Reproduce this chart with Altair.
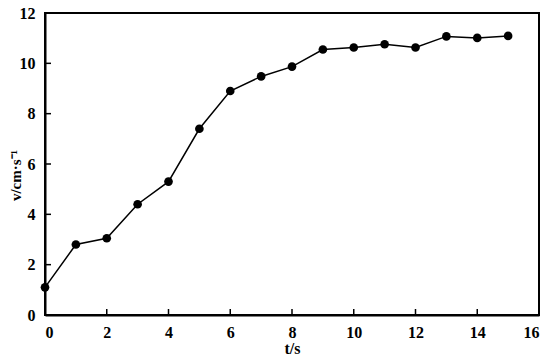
import altair as alt
import pandas as pd

t_values = [0, 1, 2, 3, 4, 5, 6, 7, 8, 9, 10, 11, 12, 13, 14, 15]
v_values = [1.1, 2.8, 3.05, 4.4, 5.3, 7.4, 8.9, 9.48, 9.87, 10.55, 10.63, 10.76, 10.63, 11.07, 11.01, 11.09]
x_ticks = [0, 2, 4, 6, 8, 10, 12, 14, 16]
y_ticks = [0, 2, 4, 6, 8, 10, 12]

df = pd.DataFrame({"t": t_values, "v": v_values})
W, H = 494, 302
FONT = "Liberation Serif"
AXIS_COLOR = "black"

xs = alt.Scale(domain=[0, 16], nice=False)
ys = alt.Scale(domain=[0, 12], nice=False)

xaxis = alt.Axis(values=x_ticks, ticks=False, grid=False, domainColor=AXIS_COLOR, domainWidth=2,
                 labelFont=FONT, labelFontSize=16, labelFontWeight="bold", labelColor="black",
                 labelPadding=9, title="t/s", titleFont=FONT, titleFontSize=16,
                 titleFontWeight="bold", titleColor="black", titlePadding=0)
yaxis = alt.Axis(values=y_ticks, ticks=False, grid=False, domainColor=AXIS_COLOR, domainWidth=2,
                 labelFont=FONT, labelFontSize=16, labelFontWeight="bold", labelColor="black",
                 labelPadding=10, title="v/cm·s⁻¹", titleFont=FONT, titleFontSize=15,
                 titleFontWeight="bold", titleColor="black", titleX=-30, titleY=162,
                 titleAngle=270, titleAlign="center", titleBaseline="middle")

base = alt.Chart(df)
line = base.mark_line(color="black", strokeWidth=1.5).encode(
    x=alt.X("t:Q", scale=xs, axis=xaxis),
    y=alt.Y("v:Q", scale=ys, axis=yaxis),
)
pts = base.mark_circle(color="black", opacity=1, size=75).encode(
    x=alt.X("t:Q", scale=xs), y=alt.Y("v:Q", scale=ys)
)

tick_df = pd.DataFrame({"xt": x_ticks})
ytick_df = pd.DataFrame({"yt": y_ticks})
xt = alt.Chart(tick_df).mark_rule(color=AXIS_COLOR, strokeWidth=1.5).encode(
    x=alt.X("xt:Q", scale=xs), y=alt.value(H), y2=alt.value(H - 6)
)
yt = alt.Chart(ytick_df).mark_rule(color=AXIS_COLOR, strokeWidth=1.5).encode(
    y=alt.Y("yt:Q", scale=ys), x=alt.value(0), x2=alt.value(6)
)
frame = alt.Chart(pd.DataFrame({"a": [0]})).mark_rect(
    fill=None, filled=False, stroke=AXIS_COLOR, strokeWidth=2
).encode(x=alt.value(0), x2=alt.value(W), y=alt.value(0), y2=alt.value(H))

chart = alt.layer(frame, xt, yt, line, pts).properties(
    width=W, height=H,
    autosize=alt.AutoSizeParams(type="none"),
    padding={"left": 37, "top": 5, "right": 3, "bottom": 41},
)

chart.save("out.html", embed_options={"renderer": "svg", "actions": False})
